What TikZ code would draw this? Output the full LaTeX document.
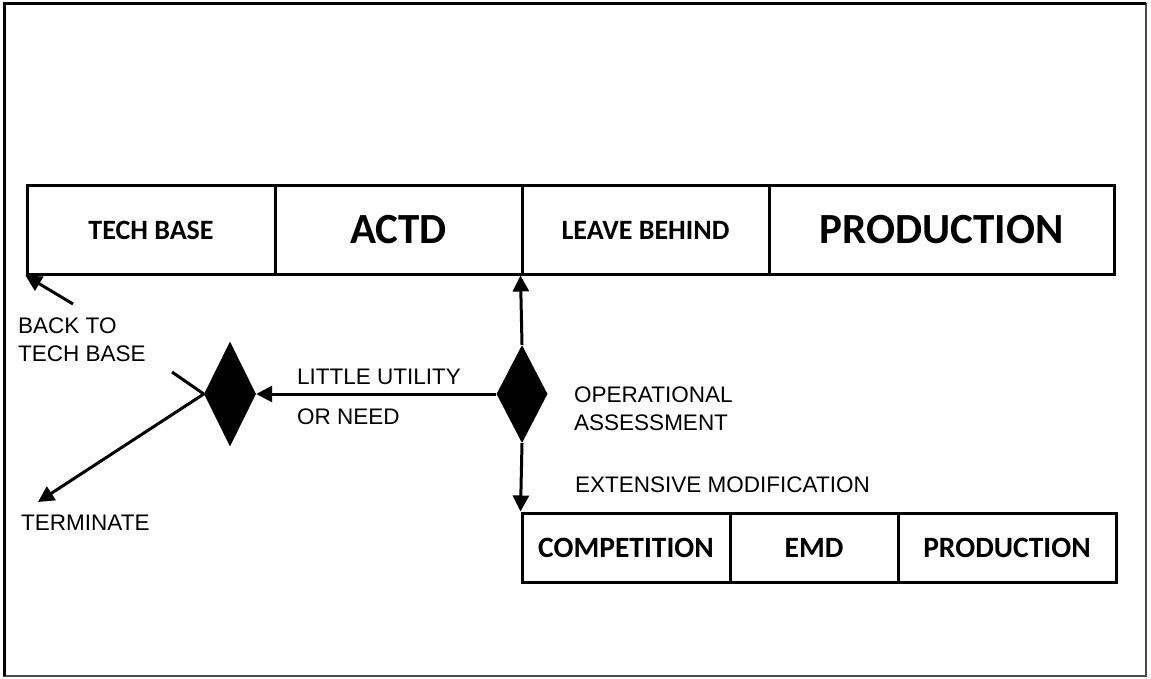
\documentclass[tikz,border=0pt]{standalone}
\usepackage{fontspec}
\setmainfont{Liberation Sans}
\newfontfamily\carlito{Carlito}
\usetikzlibrary{arrows.meta,shapes.geometric}
\tikzset{
  stagebox/.style={draw=black, line width=3pt, rectangle, inner sep=0pt, font=\carlito\bfseries},
  smallbold/.style={font=\carlito\bfseries\fontsize{28}{30}\selectfont},
  lowbold/.style={font=\carlito\bfseries\fontsize{29.5}{31}\selectfont},
  bigbold/.style={font=\carlito\bfseries\fontsize{43}{45}\selectfont},
  lbl/.style={inner sep=0pt, anchor=base west, font=\fontsize{22.5}{26}\selectfont},
  decision/.style={diamond, fill=black, draw=none, inner sep=0pt},
  arr/.style={line width=3pt, -{Triangle[length=16pt,width=16pt]}},
  plain/.style={line width=3pt}
}
\begin{document}
\begin{tikzpicture}[x=1pt,y=-1pt]
\useasboundingbox (0,0) rectangle (1151,679);
% outer frame
\draw[line width=1.5pt, black!70] (4,4) rectangle (1146,676);
\draw[line width=3pt] (4,676) -- (4,4) -- (1146,4);

% top row of stages
\node[stagebox, smallbold, minimum width=248pt, minimum height=88pt] (tech) at (151,230) {TECH BASE};
\node[stagebox, bigbold, minimum width=247pt, minimum height=88pt] (actd) at (398.5,230) {ACTD};
\node[stagebox, smallbold, minimum width=247pt, minimum height=88pt] (leave) at (645.5,230) {LEAVE BEHIND};
\node[stagebox, bigbold, minimum width=345pt, minimum height=88pt] (prod) at (941.5,230) {PRODUCTION};

% lower row of stages
\node[stagebox, lowbold, minimum width=208pt, minimum height=69pt] (comp) at (626,547.5) {COMPETITION};
\node[stagebox, lowbold, minimum width=168pt, minimum height=69pt] (emd) at (814,547.5) {EMD};
\node[stagebox, lowbold, minimum width=218pt, minimum height=69pt] (prod2) at (1007,547.5) {PRODUCTION};

% decisions
\node[decision, minimum width=52pt, minimum height=105pt] (d1) at (230,394) {};
\node[decision, minimum width=51pt, minimum height=98pt] (d2) at (522,394) {};

% free ends
\coordinate (backtail) at (73,304);
\coordinate (stub) at (172,372);
\coordinate (term) at (38,502);

% connectors
\draw[arr] (d2.north) -- (leave.south west);
\draw[arr] (d2.south) -- (comp.north west);
\draw[arr] (d2.west) -- (d1.east);
\draw[arr] (d1.west) -- (term);
\draw[plain] (stub) -- (d1.west);
\draw[arr] (backtail) -- (tech.south west);

% labels
\node[lbl] (back1) at (18,333) {BACK TO};
\node[lbl] (back2) at (18,361) {TECH BASE};
\node[lbl] (lu1) at (297,384) {LITTLE UTILITY};
\node[lbl] (lu2) at (297,424) {OR NEED};
\node[lbl] (op1) at (574,402) {OPERATIONAL};
\node[lbl] (op2) at (574,430) {ASSESSMENT};
\node[lbl] (ext) at (575,492) {EXTENSIVE MODIFICATION};
\node[lbl] (termlbl) at (21,530) {TERMINATE};
\end{tikzpicture}
\end{document}
